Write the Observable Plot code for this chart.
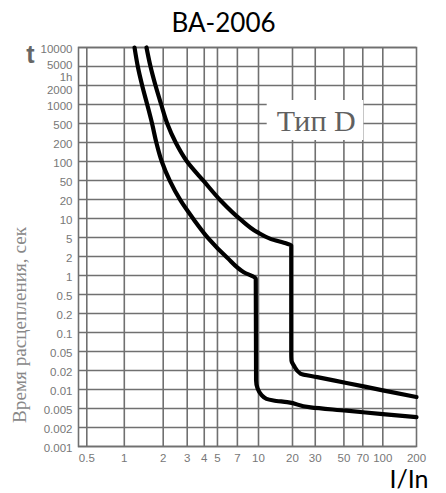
<!DOCTYPE html>
<html>
<head>
<meta charset="utf-8">
<script src="https://cdn.jsdelivr.net/npm/d3@7"></script>
<script src="https://cdn.jsdelivr.net/npm/@observablehq/plot@0.6"></script>
<style>
  html, body { margin: 0; padding: 0; background: white; }
</style>
</head>
<body>
<div id="chart"></div>
<script>
// ---- data ----
const title = "BA-2006";
const xTicks = [0.5, 1, 2, 3, 4, 5, 7, 10, 20, 30, 50, 70, 100, 200];
const yTicks = [0.001, 0.002, 0.005, 0.01, 0.02, 0.05, 0.1, 0.2, 0.5, 1, 2, 5, 10, 20, 50, 100, 200, 500, 1000, 2000, 5000, 10000];
const hourValue = 3600;
const hourLabel = "1h";

// upper (max) tripping curve: I/In and t, seconds
const upperI = [1.485, 1.595, 1.744, 1.93, 2.14, 2.47, 2.99, 3.97, 5.27, 7.38, 9.79, 12.77, 17.95, 19.5, 19.5, 19.6, 20.5, 23.1, 31.1, 52.4, 100, 200];
const upperT = [10000, 5000, 2000, 1000, 500, 200, 100, 48.4, 19.3, 9.66, 6.07, 4.68, 3.7, 3.41, 0.045, 0.032, 0.0254, 0.0178, 0.0157, 0.0127, 0.0097, 0.0076];

// lower (min) tripping curve
const lowerI = [1.2, 1.272, 1.375, 1.504, 1.64, 1.77, 1.95, 2.243, 2.68, 3.35, 4.32, 5.9, 7.8, 9.55, 9.6, 9.85, 10.63, 11.77, 13.58, 17.95, 27.6, 52.4, 100, 200];
const lowerT = [10000, 5000, 2000, 1000, 500, 200, 100, 48.4, 19.3, 9.66, 4.68, 1.905, 1.125, 0.889, 0.0139, 0.0104, 0.0082, 0.0071, 0.0067, 0.0063, 0.0052, 0.0045, 0.0038, 0.0033];

const typeLabel = {text: "Тип D", i: 30.5, t: 500, i1: 11.94, i2: 71.3, t1: 220, t2: 1157};
const yTitle = "Время расцепления, сек";
const xTitle = "I/In";
const tLetter = "t";

const upper = upperI.map((v, k) => ({i: v, t: upperT[k]}));
const lower = lowerI.map((v, k) => ({i: v, t: lowerT[k]}));

// ---- layout ----
const W = 446, H = 493;
const mT = 47, mB = 47, mL = 78, mR = 30;
const gridColor = "#707070";

// The printed grid: time rows are evenly spaced (1-2-5 steps),
// current columns are close to logarithmic (piecewise log anchors).
const yIdx = d3.scaleLog().domain(yTicks).range(yTicks.map((_, k) => k));
const xAnchors = [0.5, 1, 2, 10, 20, 100, 200];
const xPos = d3.scaleLog().domain(xAnchors).range([86.3, 123.8, 162.7, 258, 292, 382.3, W - mR]);

const X = d => xPos(d.i), Y = d => yIdx(d.t);
const xLabelOf = new Map(xTicks.map(v => [xPos(v), String(v)]));
const yLabelOf = new Map(yTicks.concat([hourValue]).map(v => [yIdx(v), v === hourValue ? hourLabel : String(v)]));
const fmtY = d => yLabelOf.get(d);
const yCrowded = [5000, hourValue, 2000];
const yPlain = yTicks.filter(v => !yCrowded.includes(v));
const yAxisStyle = {tickSize: 0, tickPadding: 6, fontSize: 11.5, color: "#777", label: null, tickFormat: fmtY};

const chart = Plot.plot({
  width: W,
  height: H,
  marginTop: mT,
  marginBottom: mB,
  marginLeft: mL,
  marginRight: mR,
  style: {background: "white", fontFamily: "'Liberation Sans', Arial, sans-serif", overflow: "visible"},
  x: {type: "linear", domain: [mL, W - mR], range: [mL, W - mR]},
  y: {type: "linear", domain: [0, yTicks.length - 1]},
  marks: [
    Plot.gridY(yTicks.map(v => yIdx(v)), {stroke: gridColor, strokeOpacity: 1, strokeWidth: 1.6}),
    Plot.gridX(xTicks.slice(0, -1).map(v => xPos(v)), {stroke: gridColor, strokeOpacity: 1, strokeWidth: 1.6}),
    Plot.frame({stroke: gridColor, strokeWidth: 1.6}),
    Plot.rect([typeLabel], {x1: d => xPos(d.i1), x2: d => xPos(d.i2), y1: d => yIdx(d.t1), y2: d => yIdx(d.t2), fill: "white"}),
    Plot.text([typeLabel], {x: X, y: Y, text: "text", fontFamily: "'Liberation Serif', 'Times New Roman', serif", fontSize: 30, fill: "#606060", lineAnchor: "middle", dy: -2.5}),
    Plot.line(upper, {x: X, y: Y, stroke: "black", strokeWidth: 4.2, curve: "monotone-y", strokeLinejoin: "round"}),
    Plot.line(lower, {x: X, y: Y, stroke: "black", strokeWidth: 4.2, curve: "monotone-y", strokeLinejoin: "round"}),
    Plot.axisX(xTicks.map(v => xPos(v)), {tickSize: 0, tickPadding: 7, fontSize: 11.5, color: "#777", label: null, tickFormat: d => xLabelOf.get(d)}),
    Plot.axisY(yPlain.map(v => yIdx(v)), {...yAxisStyle, dy: 1.5}),
    Plot.axisY([yIdx(5000)], {...yAxisStyle, dy: -1.5}),
    Plot.axisY([yIdx(hourValue)], {...yAxisStyle, dy: 4.5}),
    Plot.axisY([yIdx(2000)], {...yAxisStyle, dy: 4.5}),
    Plot.text([title], {frameAnchor: "top", dx: -(mL - mR) / 2, dy: -16, lineAnchor: "bottom", fontFamily: "Lato, 'Open Sans', sans-serif", fontSize: 26, fill: "black"}),
    Plot.text([tLetter], {frameAnchor: "top-left", dx: -48, dy: 15, lineAnchor: "bottom", textAnchor: "middle", fontFamily: "'Liberation Sans', Arial, sans-serif", fontWeight: "bold", fontSize: 25, fill: "#666"}),
    Plot.text([xTitle], {frameAnchor: "bottom-right", dx: 12, dy: 41, lineAnchor: "bottom", textAnchor: "end", fontFamily: "Lato, 'Open Sans', sans-serif", fontSize: 25, fill: "black"}),
    Plot.text([yTitle], {frameAnchor: "left", rotate: -90, dx: -53, dy: 78, textAnchor: "middle", lineAnchor: "bottom", fontFamily: "'Liberation Serif', 'Times New Roman', serif", fontSize: 19.2, fill: "#888"})
  ]
});

document.getElementById("chart").appendChild(chart);
</script>
</body>
</html>
